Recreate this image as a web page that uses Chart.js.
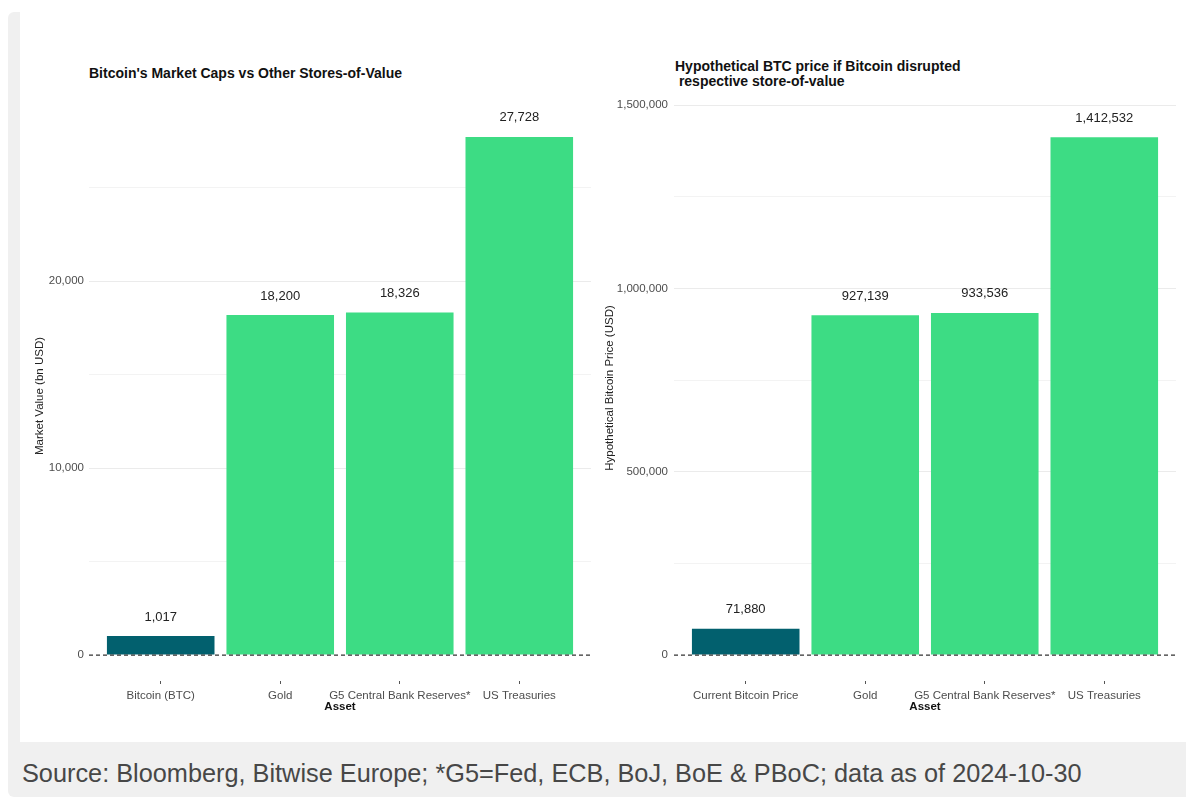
<!DOCTYPE html>
<html>
<head>
<meta charset="utf-8">
<script src="https://cdn.jsdelivr.net/npm/chart.js@4"></script>
<style>
  html, body { margin: 0; padding: 0; background: #fff; overflow: hidden; }
  body { width: 1186px; height: 799px; position: relative; font-family: "Liberation Sans", Arial, sans-serif; }
  #frame { position: absolute; left: 8px; top: 12px; width: 1200px; height: 785px; background: #f0f0f0; border-radius: 6px; }
  #panel { position: absolute; left: 20px; top: 0; width: 1180px; height: 742px; background: #fff; }
  .title { position: absolute; font-weight: bold; font-size: 14px; color: #111; line-height: 15px; white-space: pre; }
  #source { position: absolute; left: 22px; top: 759px; font-size: 25.3px; color: #474747; white-space: nowrap; }
  canvas { position: absolute; top: 0; }
</style>
</head>
<body>
<div id="frame"></div>
<div id="panel"></div>
<div class="title" style="left:89px; top:66px;">Bitcoin's Market Caps vs Other Stores-of-Value</div>
<div class="title" style="left:675px; top:59px;">Hypothetical BTC price if Bitcoin disrupted
 respective store-of-value</div>
<canvas id="capChart" width="575" height="742" style="left:20px"></canvas>
<canvas id="priceChart" width="590" height="742" style="left:596px"></canvas>
<div id="source">Source: Bloomberg, Bitwise Europe; *G5=Fed, ECB, BoJ, BoE &amp; PBoC; data as of 2024-10-30</div>
<script>
const capLabels = ['Bitcoin (BTC)', 'Gold', 'G5 Central Bank Reserves*', 'US Treasuries'];
const capValues = [1017, 18200, 18326, 27728];
const capTicks = [0, 5000, 10000, 15000, 20000, 25000];
const capTickLabels = ['0', '', '10,000', '', '20,000', ''];

const priceLabels = ['Current Bitcoin Price', 'Gold', 'G5 Central Bank Reserves*', 'US Treasuries'];
const priceValues = [71880, 927139, 933536, 1412532];
const priceTicks = [0, 250000, 500000, 750000, 1000000, 1250000, 1500000];
const priceTickLabels = ['0', '', '500,000', '', '1,000,000', '', '1,500,000'];

const barColors = ['#02606e', '#3ddc84', '#3ddc84', '#3ddc84'];

Chart.defaults.font.family = '"Liberation Sans", Arial, sans-serif';
Chart.defaults.font.size = 11.5;
Chart.defaults.color = '#4d4d4d';

// dashed zero line + value labels on top of bars
const extras = {
  id: 'extras',
  afterDatasetsDraw(chart) {
    const { ctx, chartArea, scales } = chart;
    const y0 = scales.y.getPixelForValue(0);
    ctx.save();
    ctx.setLineDash([4, 3]);
    ctx.lineWidth = 1.4;
    ctx.strokeStyle = '#333';
    ctx.beginPath();
    ctx.moveTo(chartArea.left, y0);
    ctx.lineTo(chartArea.right, y0);
    ctx.stroke();
    ctx.setLineDash([]);
    ctx.font = '13px "Liberation Sans", Arial, sans-serif';
    ctx.fillStyle = '#222';
    ctx.textAlign = 'center';
    ctx.textBaseline = 'middle';
    const vals = chart.data.datasets[0].data;
    chart.getDatasetMeta(0).data.forEach((bar, i) => {
      ctx.fillText(vals[i].y.toLocaleString('en-US'), bar.x, bar.y - 19);
    });
    ctx.restore();
  }
};

function makeChart(id, labels, values, yTicks, yTickLabels, o) {
  return new Chart(document.getElementById(id), {
    type: 'bar',
    data: {
      datasets: [{
        data: values.map((v, i) => ({ x: i + 1, y: v })),
        backgroundColor: barColors,
        barPercentage: 0.9,
        categoryPercentage: 1.0
      }]
    },
    plugins: [extras],
    options: {
      responsive: false,
      animation: false,
      layout: { padding: { top: o.top, right: o.right, bottom: 0, left: 0 } },
      plugins: { legend: { display: false }, tooltip: { enabled: false } },
      scales: {
        x: {
          type: 'linear',
          min: 0.4,
          max: 4.6,
          offset: false,
          afterBuildTicks: s => { s.ticks = labels.map((l, i) => ({ value: i + 1 })); },
          afterFit: s => { s.height = 61; },
          ticks: { padding: 5, maxRotation: 0, autoSkip: false, callback: v => labels[v - 1] },
          grid: { display: true, offset: false, drawOnChartArea: false, drawTicks: true, tickLength: 3, tickColor: '#555', tickWidth: 1 },
          border: { display: false },
          title: { display: true, text: 'Asset', color: '#111', font: { weight: 'bold', size: 11.5 }, padding: { top: 0, bottom: 28 } }
        },
        y: {
          type: 'linear',
          min: o.min,
          max: o.max,
          afterBuildTicks: s => { s.ticks = yTicks.map(v => ({ value: v })); },
          afterFit: s => { s.width = o.yWidth; },
          ticks: { padding: o.tickPad, autoSkip: false, callback: (v, i) => yTickLabels[i] },
          grid: {
            drawTicks: false,
            color: c => (c.index === 0 ? 'rgba(0,0,0,0)' : (yTickLabels[c.index] ? '#ebebeb' : '#f3f3f3'))
          },
          border: { display: false },
          title: { display: true, text: o.yTitle, color: '#222', font: { size: 11.5 }, padding: { top: o.titlePad, bottom: 0 } }
        }
      }
    }
  });
}

makeChart('capChart', capLabels, capValues, capTicks, capTickLabels, {
  top: 111, right: 4, min: -1386, max: 29114,
  yWidth: 69, tickPad: 5, titlePad: 13, yTitle: 'Market Value (bn USD)'
});

makeChart('priceChart', priceLabels, priceValues, priceTicks, priceTickLabels, {
  top: 95, right: 10, min: -70627, max: 1528000,
  yWidth: 78, tickPad: 6, titlePad: 7, yTitle: 'Hypothetical Bitcoin Price (USD)'
});
</script>
</body>
</html>
